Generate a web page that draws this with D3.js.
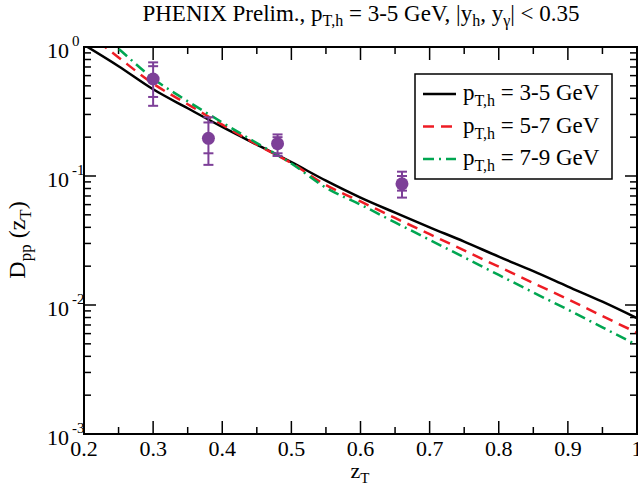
<!DOCTYPE html>
<html lang="en">
<head>
<meta charset="UTF-8" />
<title>D_pp(z_T)</title>
<script src="https://d3js.org/d3.v7.min.js"></script>
<style>
  body { margin: 0; background: #fff; }
  svg { font-family: "Liberation Serif", "Times New Roman", serif; }
</style>
</head>
<body>
<div id="chart"></div>
<script>
// curve grid in z_T
const zGrid = [0.20, 0.25, 0.30, 0.35, 0.40, 0.45, 0.50, 0.55, 0.60, 0.65, 0.70, 0.75, 0.80, 0.85, 0.90, 0.95, 1.00];
const curve35 = [1.04, 0.71, 0.47, 0.335, 0.24, 0.175, 0.128, 0.092, 0.068, 0.052, 0.040, 0.031, 0.0237, 0.0183, 0.0139, 0.0106, 0.0079];
const curve57 = [1.35, 0.83, 0.52, 0.36, 0.25, 0.175, 0.126, 0.085, 0.0635, 0.0473, 0.0354, 0.0265, 0.0198, 0.0148, 0.0111, 0.0082, 0.0061];
const curve79 = [1.65, 0.97, 0.57, 0.38, 0.26, 0.18, 0.125, 0.081, 0.060, 0.0437, 0.0320, 0.0234, 0.0171, 0.0125, 0.0092, 0.0067, 0.0049];

// PHENIX preliminary points
const dataZ = [0.30, 0.38, 0.48, 0.66];
const dataVal = [0.565, 0.196, 0.178, 0.087];
const innerLo = [0.41, 0.15, 0.15, 0.077];
const innerHi = [0.71, 0.26, 0.20, 0.100];
const outerLo = [0.35, 0.122, 0.143, 0.068];
const outerHi = [0.76, 0.285, 0.21, 0.108];

const xTicks = [0.2, 0.3, 0.4, 0.5, 0.6, 0.7, 0.8, 0.9, 1.0];
const xTickLabels = ["0.2", "0.3", "0.4", "0.5", "0.6", "0.7", "0.8", "0.9", "1"];
const yExps = [0, -1, -2, -3];

const legendLabels = ["3-5 GeV", "5-7 GeV", "7-9 GeV"];

const width = 638, height = 486;
const mLeft = 84, mRight = 637, mTop = 47, mBottom = 434;

const svg = d3.select("#chart").append("svg")
  .attr("width", width).attr("height", height);

const x = d3.scaleLinear().domain([0.2, 1.0]).range([mLeft, mRight]);
const y = d3.scaleLog().domain([1e-3, 1]).range([mBottom, mTop]);

svg.append("clipPath").attr("id", "plot")
  .append("rect").attr("x", mLeft).attr("y", mTop)
  .attr("width", mRight - mLeft).attr("height", mBottom - mTop);

// ticks (inside, all four sides)
const minorX = d3.range(0.25, 1.0, 0.1);
const minorY = [];
yExps.slice(0, 3).forEach(e => { for (let k = 2; k <= 9; k++) minorY.push(k * Math.pow(10, e - 1)); });

const tk = svg.append("g").attr("stroke", "#000").attr("stroke-width", 1.5);
xTicks.forEach(v => {
  tk.append("line").attr("x1", x(v)).attr("x2", x(v)).attr("y1", mBottom).attr("y2", mBottom - 13);
  tk.append("line").attr("x1", x(v)).attr("x2", x(v)).attr("y1", mTop).attr("y2", mTop + 13);
});
minorX.forEach(v => {
  tk.append("line").attr("x1", x(v)).attr("x2", x(v)).attr("y1", mBottom).attr("y2", mBottom - 7);
  tk.append("line").attr("x1", x(v)).attr("x2", x(v)).attr("y1", mTop).attr("y2", mTop + 7);
});
yExps.forEach(e => {
  const v = Math.pow(10, e);
  tk.append("line").attr("x1", mLeft).attr("x2", mLeft + 12).attr("y1", y(v)).attr("y2", y(v));
  tk.append("line").attr("x1", mRight).attr("x2", mRight - 12).attr("y1", y(v)).attr("y2", y(v));
});
minorY.forEach(v => {
  tk.append("line").attr("x1", mLeft).attr("x2", mLeft + 7).attr("y1", y(v)).attr("y2", y(v));
  tk.append("line").attr("x1", mRight).attr("x2", mRight - 7).attr("y1", y(v)).attr("y2", y(v));
});

// curves
const line = d3.line()
  .x((d, i) => x(zGrid[i]))
  .y(d => y(d))
  .curve(d3.curveMonotoneX);

const curves = [
  { vals: curve35, color: "#000000", dash: null },
  { vals: curve57, color: "#ee1c24", dash: "11,7" },
  { vals: curve79, color: "#00a651", dash: "11,5,2,5" }
];

const cg = svg.append("g").attr("clip-path", "url(#plot)");
curves.forEach(c => {
  cg.append("path").datum(c.vals)
    .attr("d", line)
    .attr("fill", "none")
    .attr("stroke", c.color)
    .attr("stroke-width", 2.5)
    .attr("stroke-dasharray", c.dash);
});

// data points with two sets of error bars
const purple = "#7d3f98";
const pg = svg.append("g").attr("stroke", purple).attr("stroke-width", 2);
dataZ.forEach((z, i) => {
  const px = x(z);
  pg.append("line").attr("x1", px).attr("x2", px).attr("y1", y(outerLo[i])).attr("y2", y(outerHi[i]));
  [innerLo[i], innerHi[i], outerLo[i], outerHi[i]].forEach(v => {
    pg.append("line").attr("x1", px - 5).attr("x2", px + 5).attr("y1", y(v)).attr("y2", y(v));
  });
  svg.append("circle").attr("cx", px).attr("cy", y(dataVal[i])).attr("r", 6.5).attr("fill", purple);
});

// frame
svg.append("rect").attr("x", mLeft).attr("y", mTop)
  .attr("width", mRight - mLeft).attr("height", mBottom - mTop)
  .attr("fill", "none").attr("stroke", "#000").attr("stroke-width", 2);

// x tick labels
svg.append("g").selectAll("text").data(xTicks).join("text")
  .attr("x", d => x(d)).attr("y", mBottom + 22)
  .attr("text-anchor", "middle").attr("font-size", 22)
  .text((d, i) => xTickLabels[i]);

// y tick labels 10^n
yExps.forEach(e => {
  const ty = y(Math.pow(10, e));
  svg.append("text").attr("x", 69).attr("y", ty + 11)
    .attr("text-anchor", "end").attr("font-size", 22).text("10");
  svg.append("text").attr("x", 72).attr("y", ty - 1)
    .attr("font-size", 15).text(e === 0 ? "0" : String(e));
});

// axis titles
const xl = svg.append("text").attr("x", 360).attr("y", 478)
  .attr("text-anchor", "middle").attr("font-size", 22);
xl.append("tspan").text("z");
xl.append("tspan").attr("font-size", 15).attr("dy", 5).text("T");

const yl = svg.append("text")
  .attr("transform", "translate(25,240) rotate(-90)")
  .attr("text-anchor", "middle").attr("font-size", 24);
yl.append("tspan").text("D");
yl.append("tspan").attr("font-size", 17).attr("dy", 6).text("pp");
yl.append("tspan").attr("dy", -6).text(" (z");
yl.append("tspan").attr("font-size", 17).attr("dy", 6).text("T");
yl.append("tspan").attr("dy", -6).text(")");

// title
const tt = svg.append("text").attr("x", 361).attr("y", 21)
  .attr("text-anchor", "middle").attr("font-size", 23);
tt.append("tspan").text("PHENIX Prelim., p");
tt.append("tspan").attr("font-size", 16).attr("dy", 5).text("T,h");
tt.append("tspan").attr("dy", -5).text(" = 3-5 GeV, |y");
tt.append("tspan").attr("font-size", 16).attr("dy", 5).text("h");
tt.append("tspan").attr("dy", -5).text(", y");
tt.append("tspan").attr("font-size", 16).attr("dy", 5).text("\u03b3");
tt.append("tspan").attr("dy", -5).text("| < 0.35");

// legend
const lg = svg.append("g");
lg.append("rect").attr("x", 415).attr("y", 74).attr("width", 197).attr("height", 105)
  .attr("fill", "#fff").attr("stroke", "#000").attr("stroke-width", 1.5);
curves.forEach((c, i) => {
  const ly = 94 + i * 32.5;
  lg.append("line").attr("x1", 423).attr("x2", 456).attr("y1", ly).attr("y2", ly)
    .attr("stroke", c.color).attr("stroke-width", 2.5).attr("stroke-dasharray", c.dash);
  const t = lg.append("text").attr("x", 463).attr("y", ly + 6).attr("font-size", 23);
  t.append("tspan").text("p");
  t.append("tspan").attr("font-size", 16).attr("dy", 6).text("T,h");
  t.append("tspan").attr("dy", -6).text(" = " + legendLabels[i]);
});
</script>
</body>
</html>
